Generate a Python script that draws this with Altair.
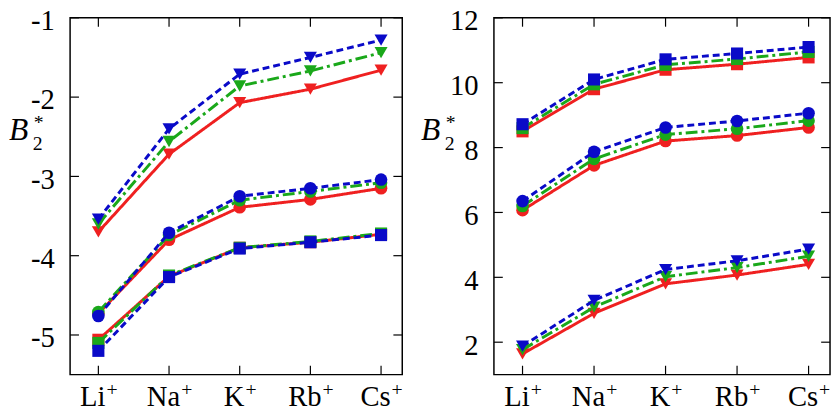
import altair as alt
import pandas as pd

ions = ["Li", "Na", "K", "Rb", "Cs"]
ion_charge = "+"
series = ["red", "green", "blue"]
groups = ["square", "circle", "tri"]

# Left panel values
left_tri_red = [-3.70, -2.72, -2.07, -1.90, -1.66]
left_tri_green = [-3.60, -2.56, -1.86, -1.67, -1.44]
left_tri_blue = [-3.54, -2.40, -1.71, -1.50, -1.28]
left_circ_red = [-4.73, -3.80, -3.39, -3.29, -3.15]
left_circ_green = [-4.71, -3.74, -3.30, -3.19, -3.08]
left_circ_blue = [-4.76, -3.71, -3.25, -3.15, -3.04]
left_sq_red = [-5.06, -4.26, -3.90, -3.83, -3.73]
left_sq_green = [-5.10, -4.25, -3.90, -3.82, -3.72]
left_sq_blue = [-5.20, -4.27, -3.91, -3.83, -3.74]

# Right panel values
right_sq_red = [8.50, 9.80, 10.40, 10.57, 10.78]
right_sq_green = [8.60, 9.95, 10.55, 10.73, 10.95]
right_sq_blue = [8.72, 10.10, 10.72, 10.90, 11.10]
right_circ_red = [6.07, 7.45, 8.20, 8.37, 8.62]
right_circ_green = [6.20, 7.65, 8.40, 8.58, 8.83]
right_circ_blue = [6.35, 7.87, 8.62, 8.82, 9.06]
right_tri_red = [1.64, 2.89, 3.80, 4.07, 4.40]
right_tri_green = [1.77, 3.08, 4.02, 4.30, 4.65]
right_tri_blue = [1.88, 3.29, 4.24, 4.51, 4.87]

left_ticks = [-5, -4, -3, -2, -1]
right_ticks = [2, 4, 6, 8, 10, 12]

COLORS = {"red": "#ef2020", "green": "#1aa81a", "blue": "#0a0ac8"}
DASH = {"red": [1, 0], "green": [12, 4, 3, 4], "blue": [7, 4]}
FONT = "Liberation Serif"
H = 362
FS = 29      # label font size
SFS = 20     # superscript font size
# glyph advance widths (em) of the serif font, used to centre "Li"+"+" as one label
ADV = {"L": .611, "i": .278, "N": .722, "a": .444, "K": .722, "R": .667,
       "b": .5, "C": .667, "s": .389, "+": .564}


def table(d):
    rows = []
    for (grp, ser), vals in d.items():
        for i, v in enumerate(vals):
            rows.append({"idx": i, "val": v, "grp": grp, "ser": ser})
    return pd.DataFrame(rows)


left_df = table({
    ("square", "red"): left_sq_red, ("square", "green"): left_sq_green, ("square", "blue"): left_sq_blue,
    ("circle", "red"): left_circ_red, ("circle", "green"): left_circ_green, ("circle", "blue"): left_circ_blue,
    ("tri", "red"): left_tri_red, ("tri", "green"): left_tri_green, ("tri", "blue"): left_tri_blue,
})
right_df = table({
    ("square", "red"): right_sq_red, ("square", "green"): right_sq_green, ("square", "blue"): right_sq_blue,
    ("circle", "red"): right_circ_red, ("circle", "green"): right_circ_green, ("circle", "blue"): right_circ_blue,
    ("tri", "red"): right_tri_red, ("tri", "green"): right_tri_green, ("tri", "blue"): right_tri_blue,
})


def panel(df, ydom, yticks, width, lab_x):
    xs = alt.Scale(domain=[-0.4, 4.3], nice=False, zero=False)
    ys = alt.Scale(domain=ydom, nice=False, zero=False)
    yax = alt.Axis(values=yticks, labelExpr="datum.value + ''", ticks=False, tickSize=0,
                   domain=False, grid=False, labelFont=FONT, labelFontSize=FS,
                   labelColor="black", labelPadding=16, labelOffset=3, title=None)
    X = lambda f: alt.X(f, scale=xs, axis=None)
    Y = lambda f: alt.Y(f, scale=ys, axis=yax)
    layers = []
    for s in series:
        sub = alt.Chart(df).transform_filter(alt.datum.ser == s)
        line = sub.mark_line(strokeWidth=3, color=COLORS[s], strokeDash=DASH[s]).encode(
            x=X("idx:Q"), y=Y("val:Q"), detail="grp:N",
        )
        pts = sub.mark_point(filled=True, opacity=1, color=COLORS[s]).encode(
            x=X("idx:Q"), y=Y("val:Q"),
            shape=alt.Shape("grp:N", scale=alt.Scale(domain=groups, range=["square", "circle", "triangle-down"]), legend=None),
            size=alt.Size("grp:N", scale=alt.Scale(domain=groups, range=[150, 175, 215]), legend=None),
        )
        layers += [line, pts]
    xt = alt.Chart(pd.DataFrame({"p": list(range(len(ions)))}))
    layers.append(xt.mark_rule(color="black", strokeWidth=1.2).encode(
        x=X("p:Q"), y=alt.value(0), y2=alt.value(9)))
    layers.append(xt.mark_rule(color="black", strokeWidth=1.2).encode(
        x=X("p:Q"), y=alt.value(H - 9), y2=alt.value(H)))
    yt = alt.Chart(pd.DataFrame({"v": yticks}))
    layers.append(yt.mark_rule(color="black", strokeWidth=1.2).encode(
        y=Y("v:Q"), x=alt.value(0), x2=alt.value(9)))
    layers.append(yt.mark_rule(color="black", strokeWidth=1.2).encode(
        y=Y("v:Q"), x=alt.value(width - 9), x2=alt.value(width)))
    # x tick labels: element symbol plus superscript charge, centred on the tick
    pw = ADV["+"] * SFS
    for i, name in enumerate(ions):
        bw = sum(ADV[c] for c in name) * FS
        d = (bw - pw) / 2
        one = alt.Chart(pd.DataFrame({"p": [i], "t": [name], "c": [ion_charge]}))
        layers.append(one.mark_text(font=FONT, fontSize=FS, align="right", dx=d,
                                    baseline="alphabetic", color="black").encode(
            x=X("p:Q"), y=alt.value(H + 32), text="t:N"))
        layers.append(one.mark_text(font=FONT, fontSize=SFS, align="left", dx=d + 1,
                                    baseline="alphabetic", color="black").encode(
            x=X("p:Q"), y=alt.value(H + 22), text="c:N"))
    one = alt.Chart(pd.DataFrame({"t": ["B"], "s": ["*"], "n": ["2"]}))
    layers.append(one.mark_text(font=FONT, fontStyle="italic", fontSize=32,
                                align="left", baseline="alphabetic", color="black").encode(
        x=alt.value(lab_x), y=alt.value(124), text="t:N"))
    layers.append(one.mark_text(font=FONT, fontSize=20,
                                align="left", baseline="alphabetic", color="black").encode(
        x=alt.value(lab_x + 25), y=alt.value(113), text="s:N"))
    layers.append(one.mark_text(font=FONT, fontSize=20,
                                align="left", baseline="alphabetic", color="black").encode(
        x=alt.value(lab_x + 24), y=alt.value(134), text="n:N"))
    return alt.layer(*layers).properties(width=width, height=H)


left = panel(left_df, [-5.5, -1], left_ticks, 337, -62)
right = panel(right_df, [1, 12], right_ticks, 341, -74)

chart = alt.hconcat(left, right, spacing=16).properties(
    padding={"left": 0, "top": -5, "right": 0, "bottom": 0}
).configure_view(stroke="black", strokeWidth=1.5).configure_concat(spacing=16)

chart.save("out.html", embed_options={"renderer": "svg", "actions": False})
